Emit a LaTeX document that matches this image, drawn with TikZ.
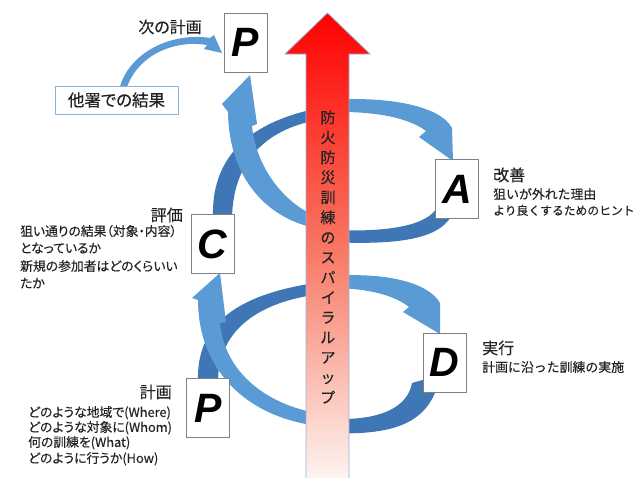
\documentclass[tikz,border=0pt]{standalone}
\usepackage{fontspec}
\newfontfamily\cjk[RawFeature=+palt, FakeBold=0.3]{Noto Sans CJK JP}
\newfontfamily\cjkm[FakeBold=0.3]{Noto Sans CJK JP}
\newfontfamily\letterfont{Liberation Sans}
\definecolor{lightarr}{RGB}{91,155,213}
\definecolor{darkarr}{RGB}{62,118,182}
\definecolor{boxgray}{RGB}{128,128,128}
\definecolor{boxblue}{RGB}{140,178,218}
\definecolor{txt}{RGB}{35,35,35}
\definecolor{arrtop}{RGB}{255,0,0}
\definecolor{arrmid}{RGB}{248,118,98}
\definecolor{arrbot}{RGB}{253,244,240}
\definecolor{arredge}{RGB}{150,180,212}
\begin{document}
\begin{tikzpicture}[x=1pt,y=-1pt,
  lbox/.style={draw=boxgray, line width=1pt, fill=white, minimum width=43pt, minimum height=59pt, inner sep=0pt,
    font=\letterfont\bfseries\itshape\fontsize{41}{41}\selectfont},
  title/.style={inner sep=0pt, text=txt, font=\cjk\fontsize{16}{18}\selectfont, text height=14pt, text depth=2pt},
  desc/.style={inner sep=0pt, text=txt, font=\cjk\fontsize{12.8}{14}\selectfont, text height=11.3pt, text depth=1.5pt},
  descr/.style={desc, font=\cjkm\fontsize{12.9}{15}\selectfont, text height=11.4pt, text depth=1.5pt},
  front/.style={fill=lightarr},
  back/.style={fill=darkarr}]
\useasboundingbox (0,0) rectangle (637,477);

% ---- back (dark) parts of the spiral
\fill[back] (213,218) .. controls (211,160) and (245,120) .. (330,106) -- (330,118) .. controls (262,126) and (233,165) .. (232,218) -- cycle;
\fill[back] (455,205) .. controls (450,236) and (410,246) .. (330,242) -- (330,230) .. controls (400,233) and (432,222) .. (438,205) -- cycle;
\fill[back] (198,382) .. controls (196,325) and (235,292) .. (330,281) -- (330,293) .. controls (252,300) and (218,335) .. (218,382) -- cycle;
\fill[back] (440,375) .. controls (432,420) and (400,436) .. (330,433) -- (330,419) .. controls (385,421) and (408,405) .. (412,383) -- cycle;

% ---- front (light) parts of the spiral
\fill[front] (330,100) .. controls (385,96) and (440,105) .. (452,128) -- (453,161) -- (419,137) -- (426,131) .. controls (410,119) and (380,111) .. (330,112) -- cycle;
\fill[front] (330,230) .. controls (275,226) and (229,185) .. (228,112) -- (222,104) -- (250,75) -- (257,124) -- (252,126) .. controls (256,170) and (290,213) .. (330,220) -- cycle;
\fill[front] (330,276) .. controls (385,272) and (428,282) .. (440,303) -- (440,334) -- (403,312) -- (409,307) .. controls (395,296) and (370,288) .. (330,288) -- cycle;
\fill[front] (330,427) .. controls (250,422) and (198,372) .. (198,300) -- (192,298) -- (220,273) -- (226,322) -- (220,323) .. controls (224,370) and (265,408) .. (330,415) -- cycle;

% ---- small arrow from the other-station box
\fill[front] (119,90) .. controls (128,52) and (172,32) .. (210,38) -- (214,35) -- (222,53) -- (204,49) -- (207,45) .. controls (178,40) and (138,52) .. (126,90) -- cycle;

% ---- central rising arrow
\draw[arredge, line width=0.8pt, top color=arrtop, bottom color=arrbot, middle color=arrmid]
  (306,479) -- (306,54) -- (285,54) -- (327.5,13) -- (370,54) -- (349,54) -- (349,479) -- cycle;
\node[inner sep=0pt, text=txt, align=center, font=\cjk\fontsize{15}{20}\selectfont] (spiral) at (328,257)
  {防\\火\\防\\災\\訓\\練\\の\\ス\\パ\\イ\\ラ\\ル\\ア\\ッ\\プ};

% ---- letter boxes
\node[lbox] (Pnext) at (245.5,42.5) {P};
\node[lbox] (A) at (457,189) {A};
\node[lbox] (C) at (212.5,244) {C};
\node[lbox] (D) at (444.5,362.5) {D};
\node[lbox] (P) at (208,408) {P};

\node[draw=boxblue, line width=1pt, fill=white, minimum width=123pt, minimum height=28pt, inner sep=0pt,
  text=txt, font=\cjk\fontsize{16.5}{18}\selectfont] (other) at (116.5,100) {他署での結果};

% ---- labels
\node[title] (nextlbl) at (170,27) {次の計画};

\node[title, anchor=west] (alabel) at (493,175) {改善};
\node[descr, anchor=west] (a1) at (493,194) {狙いが外れた理由};
\node[descr, anchor=west, font=\cjkm\fontsize{11.8}{14}\selectfont] (a2) at (493,210) {より良くするためのヒント};

\node[title, anchor=east] (clabel) at (183,215) {評価};
\node[desc, anchor=west] (c1) at (20,231) {狙い通りの結果（対象・内容）};
\node[desc, anchor=west] (c2) at (20,248) {となっているか};
\node[desc, anchor=west] (c3) at (20,266) {新規の参加者はどのくらいい};
\node[desc, anchor=west] (c4) at (20,283) {たか};

\node[title, anchor=west] (dlabel) at (482,348) {実行};
\node[descr, anchor=west] (d1) at (482,367) {計画に沿った訓練の実施};

\node[title, anchor=east] (plabel) at (172,392) {計画};
\node[desc, anchor=west] (p1) at (28,412) {どのような地域で(Where)};
\node[desc, anchor=west] (p2) at (28,427) {どのような対象に(Whom)};
\node[desc, anchor=west] (p3) at (28,442) {何の訓練を(What)};
\node[desc, anchor=west] (p4) at (28,458) {どのように行うか(How)};
\end{tikzpicture}
\end{document}
